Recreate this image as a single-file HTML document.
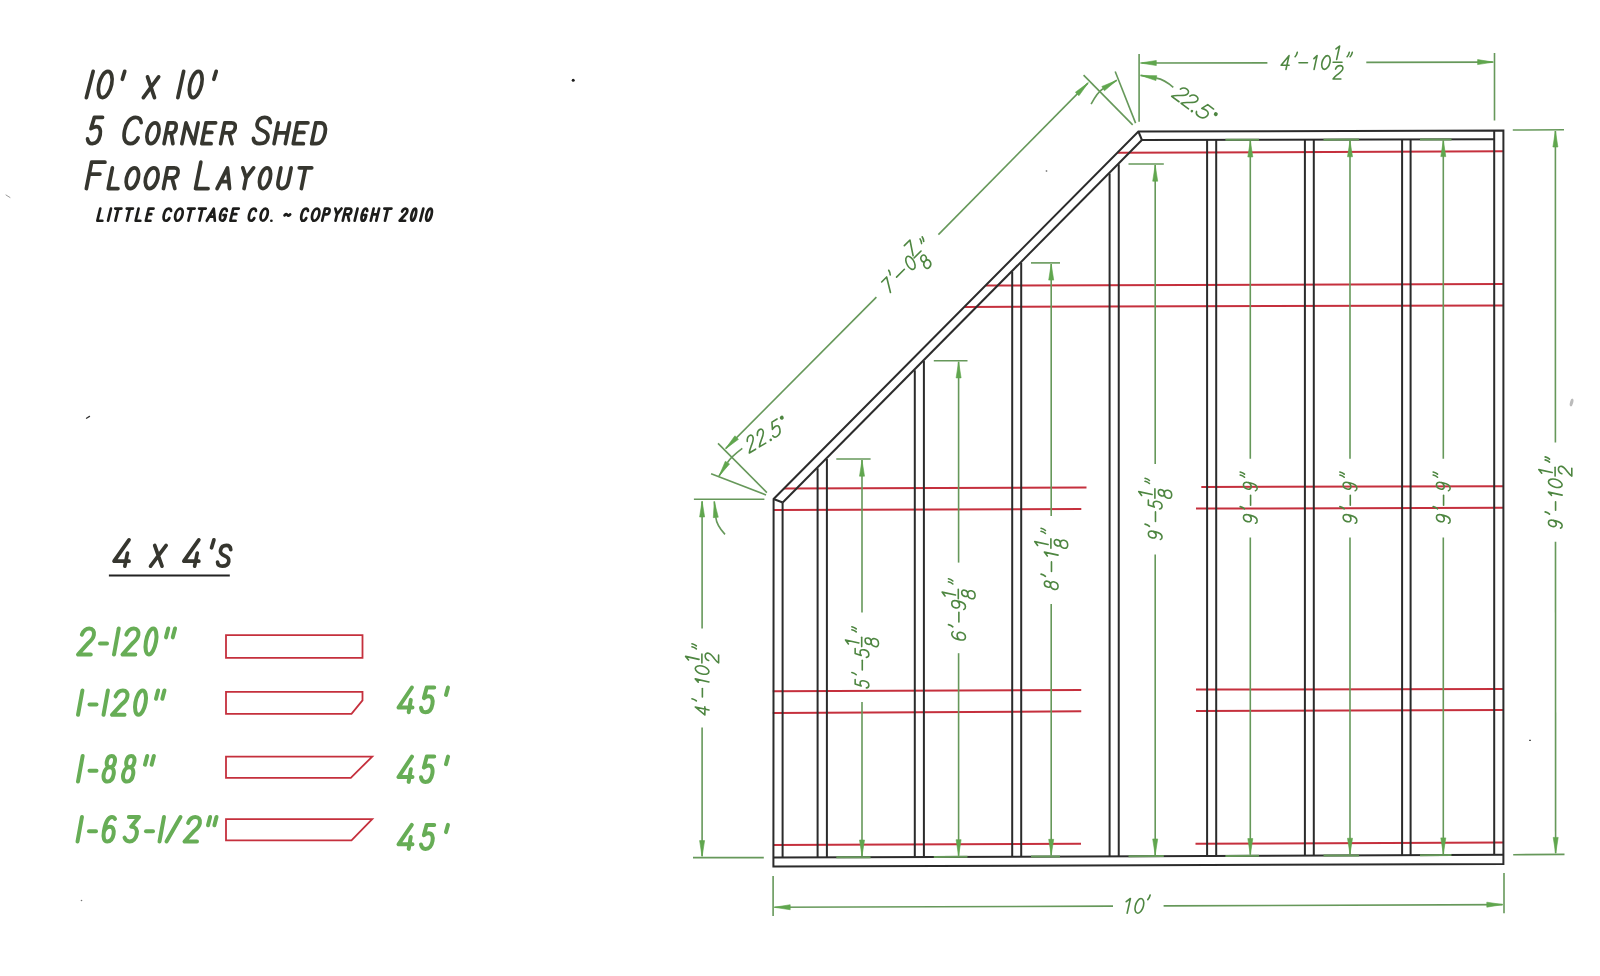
<!DOCTYPE html>
<html><head><meta charset="utf-8"><title>5 Corner Shed Floor Layout</title>
<style>html,body{margin:0;padding:0;background:#fff;font-family:"Liberation Sans",sans-serif;}svg{display:block;will-change:transform;}</style>
</head><body>
<svg width="1600" height="976" viewBox="0 0 1600 976">
<rect x="0" y="0" width="1600" height="976" fill="#ffffff"/>
<line x1="1117.40" y1="152.75" x2="1503.40" y2="151.25" stroke="#c5303d" stroke-width="2.0" stroke-linecap="butt"/>
<line x1="986.00" y1="285.60" x2="1503.40" y2="284.10" stroke="#c5303d" stroke-width="2.0" stroke-linecap="butt"/>
<line x1="964.50" y1="307.00" x2="1503.40" y2="305.40" stroke="#c5303d" stroke-width="2.0" stroke-linecap="butt"/>
<line x1="784.20" y1="488.50" x2="1086.50" y2="487.50" stroke="#c5303d" stroke-width="2.0" stroke-linecap="butt"/>
<line x1="773.40" y1="510.00" x2="1081.30" y2="509.00" stroke="#c5303d" stroke-width="2.0" stroke-linecap="butt"/>
<line x1="1201.30" y1="487.00" x2="1503.40" y2="486.30" stroke="#c5303d" stroke-width="2.0" stroke-linecap="butt"/>
<line x1="1196.00" y1="508.60" x2="1503.40" y2="507.80" stroke="#c5303d" stroke-width="2.0" stroke-linecap="butt"/>
<line x1="772.80" y1="691.25" x2="1081.25" y2="690.00" stroke="#c5303d" stroke-width="2.0" stroke-linecap="butt"/>
<line x1="772.80" y1="713.10" x2="1081.25" y2="711.25" stroke="#c5303d" stroke-width="2.0" stroke-linecap="butt"/>
<line x1="1196.00" y1="689.60" x2="1503.40" y2="688.90" stroke="#c5303d" stroke-width="2.0" stroke-linecap="butt"/>
<line x1="1196.00" y1="710.90" x2="1503.40" y2="709.90" stroke="#c5303d" stroke-width="2.0" stroke-linecap="butt"/>
<line x1="773.40" y1="845.00" x2="1081.00" y2="843.75" stroke="#c5303d" stroke-width="2.0" stroke-linecap="butt"/>
<line x1="1195.50" y1="843.75" x2="1503.40" y2="842.40" stroke="#c5303d" stroke-width="2.0" stroke-linecap="butt"/>
<polygon points="773.40,866.60 1503.40,863.90 1503.40,130.51 1138.40,131.50 773.60,499.00" fill="none" stroke="#2b2b2b" stroke-width="2.0" stroke-linejoin="miter"/>
<line x1="773.40" y1="857.53" x2="1503.40" y2="854.87" stroke="#2b2b2b" stroke-width="2.0" stroke-linecap="butt"/>
<line x1="1494.20" y1="130.54" x2="1494.20" y2="854.90" stroke="#2b2b2b" stroke-width="2.0" stroke-linecap="butt"/>
<line x1="1141.90" y1="140.00" x2="1494.20" y2="139.30" stroke="#2b2b2b" stroke-width="2.0" stroke-linecap="butt"/>
<line x1="782.70" y1="502.50" x2="1141.90" y2="140.00" stroke="#2b2b2b" stroke-width="2.0" stroke-linecap="butt"/>
<line x1="782.60" y1="502.50" x2="782.60" y2="857.50" stroke="#2b2b2b" stroke-width="2.0" stroke-linecap="butt"/>
<line x1="773.60" y1="499.00" x2="782.70" y2="502.50" stroke="#2b2b2b" stroke-width="2.0" stroke-linecap="butt"/>
<line x1="1138.40" y1="131.50" x2="1141.90" y2="140.00" stroke="#2b2b2b" stroke-width="2.0" stroke-linecap="butt"/>
<line x1="817.60" y1="468.28" x2="817.60" y2="857.37" stroke="#2b2b2b" stroke-width="2.0" stroke-linecap="butt"/>
<line x1="826.90" y1="458.89" x2="826.90" y2="857.34" stroke="#2b2b2b" stroke-width="2.0" stroke-linecap="butt"/>
<line x1="914.80" y1="370.17" x2="914.80" y2="857.02" stroke="#2b2b2b" stroke-width="2.0" stroke-linecap="butt"/>
<line x1="923.90" y1="360.99" x2="923.90" y2="856.98" stroke="#2b2b2b" stroke-width="2.0" stroke-linecap="butt"/>
<line x1="1012.20" y1="271.87" x2="1012.20" y2="856.66" stroke="#2b2b2b" stroke-width="2.0" stroke-linecap="butt"/>
<line x1="1021.20" y1="262.78" x2="1021.20" y2="856.63" stroke="#2b2b2b" stroke-width="2.0" stroke-linecap="butt"/>
<line x1="1109.60" y1="173.56" x2="1109.60" y2="856.31" stroke="#2b2b2b" stroke-width="2.0" stroke-linecap="butt"/>
<line x1="1118.75" y1="164.32" x2="1118.75" y2="856.27" stroke="#2b2b2b" stroke-width="2.0" stroke-linecap="butt"/>
<line x1="1207.10" y1="139.87" x2="1207.10" y2="855.95" stroke="#2b2b2b" stroke-width="2.0" stroke-linecap="butt"/>
<line x1="1216.20" y1="139.85" x2="1216.20" y2="855.92" stroke="#2b2b2b" stroke-width="2.0" stroke-linecap="butt"/>
<line x1="1304.90" y1="139.67" x2="1304.90" y2="855.59" stroke="#2b2b2b" stroke-width="2.0" stroke-linecap="butt"/>
<line x1="1313.80" y1="139.66" x2="1313.80" y2="855.56" stroke="#2b2b2b" stroke-width="2.0" stroke-linecap="butt"/>
<line x1="1402.10" y1="139.48" x2="1402.10" y2="855.24" stroke="#2b2b2b" stroke-width="2.0" stroke-linecap="butt"/>
<line x1="1410.60" y1="139.46" x2="1410.60" y2="855.21" stroke="#2b2b2b" stroke-width="2.0" stroke-linecap="butt"/>
<line x1="836.30" y1="459.00" x2="870.60" y2="459.00" stroke="#66985a" stroke-width="1.6" stroke-linecap="butt"/>
<line x1="836.30" y1="857.30" x2="870.60" y2="857.18" stroke="#66985a" stroke-width="2.0" stroke-linecap="butt"/>
<line x1="862.00" y1="460.00" x2="862.00" y2="612.40" stroke="#66985a" stroke-width="1.6" stroke-linecap="butt"/>
<line x1="862.00" y1="701.90" x2="862.00" y2="856.21" stroke="#66985a" stroke-width="1.6" stroke-linecap="butt"/>
<polygon points="862.00,460.20 864.50,476.20 859.50,476.20" fill="#60a64e" stroke="#60a64e" stroke-width="0.6"/>
<polygon points="862.00,856.01 859.50,840.01 864.50,840.01" fill="#60a64e" stroke="#60a64e" stroke-width="0.6"/>
<line x1="933.80" y1="360.70" x2="967.50" y2="360.70" stroke="#66985a" stroke-width="1.6" stroke-linecap="butt"/>
<line x1="933.80" y1="856.95" x2="967.50" y2="856.83" stroke="#66985a" stroke-width="2.0" stroke-linecap="butt"/>
<line x1="958.60" y1="361.70" x2="958.60" y2="562.60" stroke="#66985a" stroke-width="1.6" stroke-linecap="butt"/>
<line x1="958.60" y1="653.20" x2="958.60" y2="855.86" stroke="#66985a" stroke-width="1.6" stroke-linecap="butt"/>
<polygon points="958.60,361.90 961.10,377.90 956.10,377.90" fill="#60a64e" stroke="#60a64e" stroke-width="0.6"/>
<polygon points="958.60,855.66 956.10,839.66 961.10,839.66" fill="#60a64e" stroke="#60a64e" stroke-width="0.6"/>
<line x1="1031.00" y1="262.90" x2="1060.00" y2="262.90" stroke="#66985a" stroke-width="1.6" stroke-linecap="butt"/>
<line x1="1031.00" y1="856.59" x2="1060.00" y2="856.49" stroke="#66985a" stroke-width="2.0" stroke-linecap="butt"/>
<line x1="1051.20" y1="263.90" x2="1051.20" y2="516.00" stroke="#66985a" stroke-width="1.6" stroke-linecap="butt"/>
<line x1="1051.20" y1="603.90" x2="1051.20" y2="855.52" stroke="#66985a" stroke-width="1.6" stroke-linecap="butt"/>
<polygon points="1051.20,264.10 1053.70,280.10 1048.70,280.10" fill="#60a64e" stroke="#60a64e" stroke-width="0.6"/>
<polygon points="1051.20,855.32 1048.70,839.32 1053.70,839.32" fill="#60a64e" stroke="#60a64e" stroke-width="0.6"/>
<line x1="1128.50" y1="164.00" x2="1163.80" y2="164.00" stroke="#66985a" stroke-width="1.6" stroke-linecap="butt"/>
<line x1="1128.50" y1="856.24" x2="1163.80" y2="856.11" stroke="#66985a" stroke-width="2.0" stroke-linecap="butt"/>
<line x1="1155.20" y1="165.00" x2="1155.20" y2="464.00" stroke="#66985a" stroke-width="1.6" stroke-linecap="butt"/>
<line x1="1155.20" y1="554.60" x2="1155.20" y2="855.14" stroke="#66985a" stroke-width="1.6" stroke-linecap="butt"/>
<polygon points="1155.20,165.20 1157.70,181.20 1152.70,181.20" fill="#60a64e" stroke="#60a64e" stroke-width="0.6"/>
<polygon points="1155.20,854.94 1152.70,838.94 1157.70,838.94" fill="#60a64e" stroke="#60a64e" stroke-width="0.6"/>
<line x1="1225.40" y1="139.83" x2="1259.00" y2="139.77" stroke="#66985a" stroke-width="2.0" stroke-linecap="butt"/>
<line x1="1225.40" y1="855.88" x2="1259.00" y2="855.76" stroke="#66985a" stroke-width="2.0" stroke-linecap="butt"/>
<line x1="1250.30" y1="140.78" x2="1250.30" y2="458.70" stroke="#66985a" stroke-width="1.6" stroke-linecap="butt"/>
<line x1="1250.30" y1="537.50" x2="1250.30" y2="854.79" stroke="#66985a" stroke-width="1.6" stroke-linecap="butt"/>
<polygon points="1250.30,140.98 1252.80,156.98 1247.80,156.98" fill="#60a64e" stroke="#60a64e" stroke-width="0.6"/>
<polygon points="1250.30,854.59 1247.80,838.59 1252.80,838.59" fill="#60a64e" stroke="#60a64e" stroke-width="0.6"/>
<line x1="1323.50" y1="139.64" x2="1359.00" y2="139.57" stroke="#66985a" stroke-width="2.0" stroke-linecap="butt"/>
<line x1="1323.50" y1="855.53" x2="1359.00" y2="855.40" stroke="#66985a" stroke-width="2.0" stroke-linecap="butt"/>
<line x1="1350.00" y1="140.58" x2="1350.00" y2="458.70" stroke="#66985a" stroke-width="1.6" stroke-linecap="butt"/>
<line x1="1350.00" y1="537.50" x2="1350.00" y2="854.43" stroke="#66985a" stroke-width="1.6" stroke-linecap="butt"/>
<polygon points="1350.00,140.78 1352.50,156.78 1347.50,156.78" fill="#60a64e" stroke="#60a64e" stroke-width="0.6"/>
<polygon points="1350.00,854.23 1347.50,838.23 1352.50,838.23" fill="#60a64e" stroke="#60a64e" stroke-width="0.6"/>
<line x1="1420.00" y1="139.44" x2="1451.50" y2="139.38" stroke="#66985a" stroke-width="2.0" stroke-linecap="butt"/>
<line x1="1420.00" y1="855.17" x2="1451.50" y2="855.06" stroke="#66985a" stroke-width="2.0" stroke-linecap="butt"/>
<line x1="1443.30" y1="140.40" x2="1443.30" y2="458.70" stroke="#66985a" stroke-width="1.6" stroke-linecap="butt"/>
<line x1="1443.30" y1="537.50" x2="1443.30" y2="854.09" stroke="#66985a" stroke-width="1.6" stroke-linecap="butt"/>
<polygon points="1443.30,140.60 1445.80,156.60 1440.80,156.60" fill="#60a64e" stroke="#60a64e" stroke-width="0.6"/>
<polygon points="1443.30,853.89 1440.80,837.89 1445.80,837.89" fill="#60a64e" stroke="#60a64e" stroke-width="0.6"/>
<line x1="1139.10" y1="54.10" x2="1139.10" y2="121.70" stroke="#66985a" stroke-width="1.6" stroke-linecap="butt"/>
<line x1="1494.50" y1="53.00" x2="1494.50" y2="120.50" stroke="#66985a" stroke-width="1.6" stroke-linecap="butt"/>
<line x1="1141.50" y1="63.00" x2="1267.40" y2="62.90" stroke="#66985a" stroke-width="1.6" stroke-linecap="butt"/>
<line x1="1366.30" y1="62.40" x2="1492.80" y2="62.10" stroke="#66985a" stroke-width="1.6" stroke-linecap="butt"/>
<polygon points="1140.30,63.00 1156.30,60.50 1156.30,65.50" fill="#60a64e" stroke="#60a64e" stroke-width="0.6"/>
<polygon points="1493.60,62.10 1477.60,64.60 1477.60,59.60" fill="#60a64e" stroke="#60a64e" stroke-width="0.6"/>
<line x1="1512.80" y1="130.00" x2="1564.00" y2="129.80" stroke="#66985a" stroke-width="1.6" stroke-linecap="butt"/>
<line x1="1513.20" y1="854.70" x2="1564.50" y2="854.40" stroke="#66985a" stroke-width="1.6" stroke-linecap="butt"/>
<line x1="1555.40" y1="131.00" x2="1555.40" y2="442.60" stroke="#66985a" stroke-width="1.6" stroke-linecap="butt"/>
<line x1="1555.50" y1="541.80" x2="1555.60" y2="853.00" stroke="#66985a" stroke-width="1.6" stroke-linecap="butt"/>
<polygon points="1555.40,131.00 1557.90,147.00 1552.90,147.00" fill="#60a64e" stroke="#60a64e" stroke-width="0.6"/>
<polygon points="1555.70,853.40 1553.20,837.40 1558.20,837.40" fill="#60a64e" stroke="#60a64e" stroke-width="0.6"/>
<line x1="773.10" y1="876.00" x2="773.10" y2="916.00" stroke="#66985a" stroke-width="1.6" stroke-linecap="butt"/>
<line x1="1504.00" y1="873.00" x2="1504.00" y2="913.30" stroke="#66985a" stroke-width="1.6" stroke-linecap="butt"/>
<line x1="774.50" y1="907.30" x2="1113.00" y2="906.10" stroke="#66985a" stroke-width="1.6" stroke-linecap="butt"/>
<line x1="1163.60" y1="905.90" x2="1502.50" y2="904.60" stroke="#66985a" stroke-width="1.6" stroke-linecap="butt"/>
<polygon points="774.20,907.30 790.19,904.74 790.21,909.74" fill="#60a64e" stroke="#60a64e" stroke-width="0.6"/>
<polygon points="1502.80,904.60 1486.81,907.17 1486.79,902.17" fill="#60a64e" stroke="#60a64e" stroke-width="0.6"/>
<line x1="693.90" y1="499.20" x2="764.40" y2="499.20" stroke="#66985a" stroke-width="1.6" stroke-linecap="butt"/>
<line x1="693.00" y1="857.60" x2="763.80" y2="857.60" stroke="#66985a" stroke-width="1.6" stroke-linecap="butt"/>
<line x1="702.10" y1="501.60" x2="702.10" y2="628.60" stroke="#66985a" stroke-width="1.6" stroke-linecap="butt"/>
<line x1="702.10" y1="727.60" x2="702.10" y2="856.00" stroke="#66985a" stroke-width="1.6" stroke-linecap="butt"/>
<polygon points="702.10,501.00 704.60,517.00 699.60,517.00" fill="#60a64e" stroke="#60a64e" stroke-width="0.6"/>
<polygon points="702.10,856.60 699.60,840.60 704.60,840.60" fill="#60a64e" stroke="#60a64e" stroke-width="0.6"/>
<line x1="766.90" y1="492.60" x2="718.00" y2="443.40" stroke="#66985a" stroke-width="1.6" stroke-linecap="butt"/>
<line x1="1132.70" y1="124.90" x2="1083.60" y2="75.10" stroke="#66985a" stroke-width="1.6" stroke-linecap="butt"/>
<line x1="725.90" y1="448.40" x2="876.40" y2="297.10" stroke="#66985a" stroke-width="1.6" stroke-linecap="butt"/>
<line x1="938.40" y1="234.60" x2="1087.90" y2="83.10" stroke="#66985a" stroke-width="1.6" stroke-linecap="butt"/>
<polygon points="725.40,448.90 734.90,435.79 738.45,439.31" fill="#60a64e" stroke="#60a64e" stroke-width="0.6"/>
<polygon points="1088.40,82.60 1078.94,95.75 1075.38,92.24" fill="#60a64e" stroke="#60a64e" stroke-width="0.6"/>
<line x1="766.00" y1="495.00" x2="711.10" y2="473.80" stroke="#66985a" stroke-width="1.6" stroke-linecap="butt"/>
<line x1="1135.60" y1="123.10" x2="1115.20" y2="71.50" stroke="#66985a" stroke-width="1.6" stroke-linecap="butt"/>
<path d="M1156.40,78.10 Q1164.30,79.45 1173.30,87.30" fill="none" stroke="#66985a" stroke-width="1.6"/>
<line x1="1140.60" y1="75.40" x2="1156.40" y2="78.10" stroke="#66985a" stroke-width="1.6" stroke-linecap="butt"/>
<polygon points="1140.60,75.40 1156.79,75.63 1155.95,80.56" fill="#60a64e" stroke="#60a64e" stroke-width="0.6"/>
<path d="M1103.00,88.70 Q1097.48,92.06 1091.10,104.10" fill="none" stroke="#66985a" stroke-width="1.6"/>
<line x1="1116.80" y1="80.30" x2="1103.00" y2="88.70" stroke="#66985a" stroke-width="1.6" stroke-linecap="butt"/>
<polygon points="1116.80,80.30 1104.43,90.75 1101.83,86.48" fill="#60a64e" stroke="#60a64e" stroke-width="0.6"/>
<path d="M715.80,517.40 Q716.55,525.35 725.00,534.40" fill="none" stroke="#66985a" stroke-width="1.6"/>
<line x1="714.30" y1="501.50" x2="715.80" y2="517.40" stroke="#66985a" stroke-width="1.6" stroke-linecap="butt"/>
<polygon points="714.30,501.50 718.29,517.19 713.31,517.66" fill="#60a64e" stroke="#60a64e" stroke-width="0.6"/>
<path d="M727.50,462.50 Q730.90,457.02 742.30,448.40" fill="none" stroke="#66985a" stroke-width="1.6"/>
<line x1="719.00" y1="476.20" x2="727.50" y2="462.50" stroke="#66985a" stroke-width="1.6" stroke-linecap="butt"/>
<polygon points="719.00,476.20 725.31,461.29 729.56,463.92" fill="#60a64e" stroke="#60a64e" stroke-width="0.6"/>
<g transform="translate(1317.00,62.50) rotate(0)">
<path d="M42,0 L42,-100 L0,-30 L58,-30" transform="matrix(0.1379,0,-0.0301,0.1370,-36.80,6.85)" fill="none" stroke="#4e8641" stroke-width="1.6" stroke-linecap="round" stroke-linejoin="round" vector-effect="non-scaling-stroke"/>
<path d="M9,-124 C9,-112 6,-100 0,-92" transform="matrix(0.1370,0,-0.0301,0.1370,-24.67,6.85)" fill="none" stroke="#4e8641" stroke-width="1.6" stroke-linecap="round" stroke-linejoin="round" vector-effect="non-scaling-stroke"/>
<path d="M0,-48 L70,-48" transform="matrix(0.1214,0,-0.0301,0.1370,-19.45,6.85)" fill="none" stroke="#4e8641" stroke-width="1.6" stroke-linecap="round" stroke-linejoin="round" vector-effect="non-scaling-stroke"/>
<path d="M0,-78 L26,-100 L26,0" transform="matrix(0.0976,0,-0.0301,0.1370,-5.45,6.85)" fill="none" stroke="#4e8641" stroke-width="1.6" stroke-linecap="round" stroke-linejoin="round" vector-effect="non-scaling-stroke"/>
<path d="M28,-100 C43.4644,-100 56,-77.61500000000001 56,-50 C56,-22.384999999999998 43.4644,0 28,0 C12.535599999999999,0 0,-22.384999999999998 0,-50 C0,-77.61500000000001 12.535599999999999,-100 28,-100 Z" transform="matrix(0.1420,0,-0.0301,0.1370,3.47,6.85)" fill="none" stroke="#4e8641" stroke-width="1.6" stroke-linecap="round" stroke-linejoin="round" vector-effect="non-scaling-stroke"/>
<path d="M0,-78 L26,-100 L26,0" transform="matrix(0.1135,0,-0.0295,0.1340,16.70,-3.10)" fill="none" stroke="#4e8641" stroke-width="1.6" stroke-linecap="round" stroke-linejoin="round" vector-effect="non-scaling-stroke"/>
<path d="M2,-74 C4,-91 15,-100 29,-100 C44,-100 54,-90 54,-75 C54,-58 40,-47 24,-32 C12,-21 4,-11 0,0 L56,0" transform="matrix(0.1387,0,-0.0295,0.1340,16.10,16.50)" fill="none" stroke="#4e8641" stroke-width="1.6" stroke-linecap="round" stroke-linejoin="round" vector-effect="non-scaling-stroke"/>
<path d="M9,-124 C9,-112 6,-100 0,-92 M31,-124 C31,-112 28,-100 22,-92" transform="matrix(0.1370,0,-0.0301,0.1370,27.33,6.85)" fill="none" stroke="#4e8641" stroke-width="1.6" stroke-linecap="round" stroke-linejoin="round" vector-effect="non-scaling-stroke"/>
<line x1="16.10" y1="-0.20" x2="25.00" y2="-0.20" stroke="#4e8641" stroke-width="1.6" stroke-linecap="round"/>
</g>
<g transform="translate(1555.30,492.20) rotate(-90)">
<path d="M54,-64 C50,-51 40,-43 28,-43 C13,-43 2,-54 2,-71 C2,-89 13,-100 28,-100 C44,-100 54,-88 54,-68 L54,-48 C54,-18 42,0 25,0 C15,0 7,-4 3,-12" transform="matrix(0.1200,0,-0.0301,0.1370,-36.62,6.85)" fill="none" stroke="#4e8641" stroke-width="1.6" stroke-linecap="round" stroke-linejoin="round" vector-effect="non-scaling-stroke"/>
<path d="M9,-124 C9,-112 6,-100 0,-92" transform="matrix(0.1370,0,-0.0301,0.1370,-24.67,6.85)" fill="none" stroke="#4e8641" stroke-width="1.6" stroke-linecap="round" stroke-linejoin="round" vector-effect="non-scaling-stroke"/>
<path d="M0,-48 L70,-48" transform="matrix(0.1214,0,-0.0301,0.1370,-19.45,6.85)" fill="none" stroke="#4e8641" stroke-width="1.6" stroke-linecap="round" stroke-linejoin="round" vector-effect="non-scaling-stroke"/>
<path d="M0,-78 L26,-100 L26,0" transform="matrix(0.0976,0,-0.0301,0.1370,-5.45,6.85)" fill="none" stroke="#4e8641" stroke-width="1.6" stroke-linecap="round" stroke-linejoin="round" vector-effect="non-scaling-stroke"/>
<path d="M28,-100 C43.4644,-100 56,-77.61500000000001 56,-50 C56,-22.384999999999998 43.4644,0 28,0 C12.535599999999999,0 0,-22.384999999999998 0,-50 C0,-77.61500000000001 12.535599999999999,-100 28,-100 Z" transform="matrix(0.1420,0,-0.0301,0.1370,3.47,6.85)" fill="none" stroke="#4e8641" stroke-width="1.6" stroke-linecap="round" stroke-linejoin="round" vector-effect="non-scaling-stroke"/>
<path d="M0,-78 L26,-100 L26,0" transform="matrix(0.1135,0,-0.0295,0.1340,16.70,-3.10)" fill="none" stroke="#4e8641" stroke-width="1.6" stroke-linecap="round" stroke-linejoin="round" vector-effect="non-scaling-stroke"/>
<path d="M2,-74 C4,-91 15,-100 29,-100 C44,-100 54,-90 54,-75 C54,-58 40,-47 24,-32 C12,-21 4,-11 0,0 L56,0" transform="matrix(0.1387,0,-0.0295,0.1340,16.10,16.50)" fill="none" stroke="#4e8641" stroke-width="1.6" stroke-linecap="round" stroke-linejoin="round" vector-effect="non-scaling-stroke"/>
<path d="M9,-124 C9,-112 6,-100 0,-92 M31,-124 C31,-112 28,-100 22,-92" transform="matrix(0.1370,0,-0.0301,0.1370,27.33,6.85)" fill="none" stroke="#4e8641" stroke-width="1.6" stroke-linecap="round" stroke-linejoin="round" vector-effect="non-scaling-stroke"/>
<line x1="16.10" y1="-0.20" x2="25.00" y2="-0.20" stroke="#4e8641" stroke-width="1.6" stroke-linecap="round"/>
</g>
<g transform="translate(702.10,679.00) rotate(-90)">
<path d="M42,0 L42,-100 L0,-30 L58,-30" transform="matrix(0.1379,0,-0.0301,0.1370,-36.80,6.85)" fill="none" stroke="#4e8641" stroke-width="1.6" stroke-linecap="round" stroke-linejoin="round" vector-effect="non-scaling-stroke"/>
<path d="M9,-124 C9,-112 6,-100 0,-92" transform="matrix(0.1370,0,-0.0301,0.1370,-24.67,6.85)" fill="none" stroke="#4e8641" stroke-width="1.6" stroke-linecap="round" stroke-linejoin="round" vector-effect="non-scaling-stroke"/>
<path d="M0,-48 L70,-48" transform="matrix(0.1214,0,-0.0301,0.1370,-19.45,6.85)" fill="none" stroke="#4e8641" stroke-width="1.6" stroke-linecap="round" stroke-linejoin="round" vector-effect="non-scaling-stroke"/>
<path d="M0,-78 L26,-100 L26,0" transform="matrix(0.0976,0,-0.0301,0.1370,-5.45,6.85)" fill="none" stroke="#4e8641" stroke-width="1.6" stroke-linecap="round" stroke-linejoin="round" vector-effect="non-scaling-stroke"/>
<path d="M28,-100 C43.4644,-100 56,-77.61500000000001 56,-50 C56,-22.384999999999998 43.4644,0 28,0 C12.535599999999999,0 0,-22.384999999999998 0,-50 C0,-77.61500000000001 12.535599999999999,-100 28,-100 Z" transform="matrix(0.1420,0,-0.0301,0.1370,3.47,6.85)" fill="none" stroke="#4e8641" stroke-width="1.6" stroke-linecap="round" stroke-linejoin="round" vector-effect="non-scaling-stroke"/>
<path d="M0,-78 L26,-100 L26,0" transform="matrix(0.1135,0,-0.0295,0.1340,16.70,-3.10)" fill="none" stroke="#4e8641" stroke-width="1.6" stroke-linecap="round" stroke-linejoin="round" vector-effect="non-scaling-stroke"/>
<path d="M2,-74 C4,-91 15,-100 29,-100 C44,-100 54,-90 54,-75 C54,-58 40,-47 24,-32 C12,-21 4,-11 0,0 L56,0" transform="matrix(0.1387,0,-0.0295,0.1340,16.10,16.50)" fill="none" stroke="#4e8641" stroke-width="1.6" stroke-linecap="round" stroke-linejoin="round" vector-effect="non-scaling-stroke"/>
<path d="M9,-124 C9,-112 6,-100 0,-92 M31,-124 C31,-112 28,-100 22,-92" transform="matrix(0.1370,0,-0.0301,0.1370,27.33,6.85)" fill="none" stroke="#4e8641" stroke-width="1.6" stroke-linecap="round" stroke-linejoin="round" vector-effect="non-scaling-stroke"/>
<line x1="16.10" y1="-0.20" x2="25.00" y2="-0.20" stroke="#4e8641" stroke-width="1.6" stroke-linecap="round"/>
</g>
<g transform="translate(862.00,657.70) rotate(-90)">
<path d="M50,-100 L12,-100 L6,-56 C14,-62 22,-64 30,-64 C45,-64 55,-52 55,-32 C55,-12 43,0 27,0 C13,0 4,-7 0,-18" transform="matrix(0.1186,0,-0.0301,0.1370,-30.74,6.85)" fill="none" stroke="#4e8641" stroke-width="1.6" stroke-linecap="round" stroke-linejoin="round" vector-effect="non-scaling-stroke"/>
<path d="M9,-124 C9,-112 6,-100 0,-92" transform="matrix(0.1370,0,-0.0301,0.1370,-19.77,6.85)" fill="none" stroke="#4e8641" stroke-width="1.6" stroke-linecap="round" stroke-linejoin="round" vector-effect="non-scaling-stroke"/>
<path d="M0,-48 L70,-48" transform="matrix(0.1371,0,-0.0301,0.1370,-13.65,6.85)" fill="none" stroke="#4e8641" stroke-width="1.6" stroke-linecap="round" stroke-linejoin="round" vector-effect="non-scaling-stroke"/>
<path d="M50,-100 L12,-100 L6,-56 C14,-62 22,-64 30,-64 C45,-64 55,-52 55,-32 C55,-12 43,0 27,0 C13,0 4,-7 0,-18" transform="matrix(0.1286,0,-0.0301,0.1370,-0.24,6.85)" fill="none" stroke="#4e8641" stroke-width="1.6" stroke-linecap="round" stroke-linejoin="round" vector-effect="non-scaling-stroke"/>
<path d="M0,-78 L26,-100 L26,0" transform="matrix(0.1251,0,-0.0295,0.1340,11.50,-3.10)" fill="none" stroke="#4e8641" stroke-width="1.6" stroke-linecap="round" stroke-linejoin="round" vector-effect="non-scaling-stroke"/>
<path d="M28,-55 C14,-55 6,-63 6,-77 C6,-92 15,-100 28,-100 C41,-100 50,-92 50,-77 C50,-63 42,-55 28,-55 C12,-55 0,-45 0,-27 C0,-10 12,0 28,0 C44,0 56,-10 56,-27 C56,-45 44,-55 28,-55 Z" transform="matrix(0.1405,0,-0.0295,0.1340,10.31,16.50)" fill="none" stroke="#4e8641" stroke-width="1.6" stroke-linecap="round" stroke-linejoin="round" vector-effect="non-scaling-stroke"/>
<path d="M9,-124 C9,-112 6,-100 0,-92 M31,-124 C31,-112 28,-100 22,-92" transform="matrix(0.1370,0,-0.0301,0.1370,23.03,6.85)" fill="none" stroke="#4e8641" stroke-width="1.6" stroke-linecap="round" stroke-linejoin="round" vector-effect="non-scaling-stroke"/>
<line x1="11.10" y1="-0.30" x2="20.40" y2="-0.30" stroke="#4e8641" stroke-width="1.6" stroke-linecap="round"/>
</g>
<g transform="translate(958.60,609.80) rotate(-90)">
<path d="M50,-90 C44,-98 38,-100 31,-100 C13,-100 2,-80 2,-46 C2,-15 13,0 29,0 C45,0 56,-12 56,-31 C56,-49 45,-61 30,-61 C17,-61 6,-53 2,-38" transform="matrix(0.1404,0,-0.0301,0.1370,-31.53,6.85)" fill="none" stroke="#4e8641" stroke-width="1.6" stroke-linecap="round" stroke-linejoin="round" vector-effect="non-scaling-stroke"/>
<path d="M9,-124 C9,-112 6,-100 0,-92" transform="matrix(0.1370,0,-0.0301,0.1370,-19.77,6.85)" fill="none" stroke="#4e8641" stroke-width="1.6" stroke-linecap="round" stroke-linejoin="round" vector-effect="non-scaling-stroke"/>
<path d="M0,-48 L70,-48" transform="matrix(0.1371,0,-0.0301,0.1370,-13.65,6.85)" fill="none" stroke="#4e8641" stroke-width="1.6" stroke-linecap="round" stroke-linejoin="round" vector-effect="non-scaling-stroke"/>
<path d="M54,-64 C50,-51 40,-43 28,-43 C13,-43 2,-54 2,-71 C2,-89 13,-100 28,-100 C44,-100 54,-88 54,-68 L54,-48 C54,-18 42,0 25,0 C15,0 7,-4 3,-12" transform="matrix(0.1381,0,-0.0301,0.1370,-0.48,6.85)" fill="none" stroke="#4e8641" stroke-width="1.6" stroke-linecap="round" stroke-linejoin="round" vector-effect="non-scaling-stroke"/>
<path d="M0,-78 L26,-100 L26,0" transform="matrix(0.1251,0,-0.0295,0.1340,11.50,-3.10)" fill="none" stroke="#4e8641" stroke-width="1.6" stroke-linecap="round" stroke-linejoin="round" vector-effect="non-scaling-stroke"/>
<path d="M28,-55 C14,-55 6,-63 6,-77 C6,-92 15,-100 28,-100 C41,-100 50,-92 50,-77 C50,-63 42,-55 28,-55 C12,-55 0,-45 0,-27 C0,-10 12,0 28,0 C44,0 56,-10 56,-27 C56,-45 44,-55 28,-55 Z" transform="matrix(0.1405,0,-0.0295,0.1340,10.31,16.50)" fill="none" stroke="#4e8641" stroke-width="1.6" stroke-linecap="round" stroke-linejoin="round" vector-effect="non-scaling-stroke"/>
<path d="M9,-124 C9,-112 6,-100 0,-92 M31,-124 C31,-112 28,-100 22,-92" transform="matrix(0.1370,0,-0.0301,0.1370,23.03,6.85)" fill="none" stroke="#4e8641" stroke-width="1.6" stroke-linecap="round" stroke-linejoin="round" vector-effect="non-scaling-stroke"/>
<line x1="11.10" y1="-0.30" x2="20.40" y2="-0.30" stroke="#4e8641" stroke-width="1.6" stroke-linecap="round"/>
</g>
<g transform="translate(1051.20,559.30) rotate(-90)">
<path d="M28,-55 C14,-55 6,-63 6,-77 C6,-92 15,-100 28,-100 C41,-100 50,-92 50,-77 C50,-63 42,-55 28,-55 C12,-55 0,-45 0,-27 C0,-10 12,0 28,0 C44,0 56,-10 56,-27 C56,-45 44,-55 28,-55 Z" transform="matrix(0.1334,0,-0.0301,0.1370,-30.90,6.85)" fill="none" stroke="#4e8641" stroke-width="1.6" stroke-linecap="round" stroke-linejoin="round" vector-effect="non-scaling-stroke"/>
<path d="M9,-124 C9,-112 6,-100 0,-92" transform="matrix(0.1370,0,-0.0301,0.1370,-19.77,6.85)" fill="none" stroke="#4e8641" stroke-width="1.6" stroke-linecap="round" stroke-linejoin="round" vector-effect="non-scaling-stroke"/>
<path d="M0,-48 L70,-48" transform="matrix(0.1371,0,-0.0301,0.1370,-13.65,6.85)" fill="none" stroke="#4e8641" stroke-width="1.6" stroke-linecap="round" stroke-linejoin="round" vector-effect="non-scaling-stroke"/>
<path d="M0,-78 L26,-100 L26,0" transform="matrix(0.1245,0,-0.0301,0.1370,0.95,6.85)" fill="none" stroke="#4e8641" stroke-width="1.6" stroke-linecap="round" stroke-linejoin="round" vector-effect="non-scaling-stroke"/>
<path d="M0,-78 L26,-100 L26,0" transform="matrix(0.1251,0,-0.0295,0.1340,11.50,-3.10)" fill="none" stroke="#4e8641" stroke-width="1.6" stroke-linecap="round" stroke-linejoin="round" vector-effect="non-scaling-stroke"/>
<path d="M28,-55 C14,-55 6,-63 6,-77 C6,-92 15,-100 28,-100 C41,-100 50,-92 50,-77 C50,-63 42,-55 28,-55 C12,-55 0,-45 0,-27 C0,-10 12,0 28,0 C44,0 56,-10 56,-27 C56,-45 44,-55 28,-55 Z" transform="matrix(0.1405,0,-0.0295,0.1340,10.31,16.50)" fill="none" stroke="#4e8641" stroke-width="1.6" stroke-linecap="round" stroke-linejoin="round" vector-effect="non-scaling-stroke"/>
<path d="M9,-124 C9,-112 6,-100 0,-92 M31,-124 C31,-112 28,-100 22,-92" transform="matrix(0.1370,0,-0.0301,0.1370,23.03,6.85)" fill="none" stroke="#4e8641" stroke-width="1.6" stroke-linecap="round" stroke-linejoin="round" vector-effect="non-scaling-stroke"/>
<line x1="11.10" y1="-0.30" x2="20.40" y2="-0.30" stroke="#4e8641" stroke-width="1.6" stroke-linecap="round"/>
</g>
<g transform="translate(1155.20,509.30) rotate(-90)">
<path d="M54,-64 C50,-51 40,-43 28,-43 C13,-43 2,-54 2,-71 C2,-89 13,-100 28,-100 C44,-100 54,-88 54,-68 L54,-48 C54,-18 42,0 25,0 C15,0 7,-4 3,-12" transform="matrix(0.1280,0,-0.0301,0.1370,-30.95,6.85)" fill="none" stroke="#4e8641" stroke-width="1.6" stroke-linecap="round" stroke-linejoin="round" vector-effect="non-scaling-stroke"/>
<path d="M9,-124 C9,-112 6,-100 0,-92" transform="matrix(0.1370,0,-0.0301,0.1370,-19.77,6.85)" fill="none" stroke="#4e8641" stroke-width="1.6" stroke-linecap="round" stroke-linejoin="round" vector-effect="non-scaling-stroke"/>
<path d="M0,-48 L70,-48" transform="matrix(0.1371,0,-0.0301,0.1370,-13.65,6.85)" fill="none" stroke="#4e8641" stroke-width="1.6" stroke-linecap="round" stroke-linejoin="round" vector-effect="non-scaling-stroke"/>
<path d="M50,-100 L12,-100 L6,-56 C14,-62 22,-64 30,-64 C45,-64 55,-52 55,-32 C55,-12 43,0 27,0 C13,0 4,-7 0,-18" transform="matrix(0.1286,0,-0.0301,0.1370,-0.24,6.85)" fill="none" stroke="#4e8641" stroke-width="1.6" stroke-linecap="round" stroke-linejoin="round" vector-effect="non-scaling-stroke"/>
<path d="M0,-78 L26,-100 L26,0" transform="matrix(0.1251,0,-0.0295,0.1340,11.50,-3.10)" fill="none" stroke="#4e8641" stroke-width="1.6" stroke-linecap="round" stroke-linejoin="round" vector-effect="non-scaling-stroke"/>
<path d="M28,-55 C14,-55 6,-63 6,-77 C6,-92 15,-100 28,-100 C41,-100 50,-92 50,-77 C50,-63 42,-55 28,-55 C12,-55 0,-45 0,-27 C0,-10 12,0 28,0 C44,0 56,-10 56,-27 C56,-45 44,-55 28,-55 Z" transform="matrix(0.1405,0,-0.0295,0.1340,10.31,16.50)" fill="none" stroke="#4e8641" stroke-width="1.6" stroke-linecap="round" stroke-linejoin="round" vector-effect="non-scaling-stroke"/>
<path d="M9,-124 C9,-112 6,-100 0,-92 M31,-124 C31,-112 28,-100 22,-92" transform="matrix(0.1370,0,-0.0301,0.1370,23.03,6.85)" fill="none" stroke="#4e8641" stroke-width="1.6" stroke-linecap="round" stroke-linejoin="round" vector-effect="non-scaling-stroke"/>
<line x1="11.10" y1="-0.30" x2="20.40" y2="-0.30" stroke="#4e8641" stroke-width="1.6" stroke-linecap="round"/>
</g>
<g transform="translate(1250.30,497.80) rotate(-90)">
<path d="M54,-64 C50,-51 40,-43 28,-43 C13,-43 2,-54 2,-71 C2,-89 13,-100 28,-100 C44,-100 54,-88 54,-68 L54,-48 C54,-18 42,0 25,0 C15,0 7,-4 3,-12" transform="matrix(0.1341,0,-0.0301,0.1370,-26.26,6.85)" fill="none" stroke="#4e8641" stroke-width="1.6" stroke-linecap="round" stroke-linejoin="round" vector-effect="non-scaling-stroke"/>
<path d="M9,-124 C9,-112 6,-100 0,-92" transform="matrix(0.1370,0,-0.0301,0.1370,-13.77,6.85)" fill="none" stroke="#4e8641" stroke-width="1.6" stroke-linecap="round" stroke-linejoin="round" vector-effect="non-scaling-stroke"/>
<path d="M0,-48 L70,-48" transform="matrix(0.1414,0,-0.0301,0.1370,-8.95,6.85)" fill="none" stroke="#4e8641" stroke-width="1.6" stroke-linecap="round" stroke-linejoin="round" vector-effect="non-scaling-stroke"/>
<path d="M54,-64 C50,-51 40,-43 28,-43 C13,-43 2,-54 2,-71 C2,-89 13,-100 28,-100 C44,-100 54,-88 54,-68 L54,-48 C54,-18 42,0 25,0 C15,0 7,-4 3,-12" transform="matrix(0.1280,0,-0.0301,0.1370,6.35,6.85)" fill="none" stroke="#4e8641" stroke-width="1.6" stroke-linecap="round" stroke-linejoin="round" vector-effect="non-scaling-stroke"/>
<path d="M9,-124 C9,-112 6,-100 0,-92 M31,-124 C31,-112 28,-100 22,-92" transform="matrix(0.1370,0,-0.0301,0.1370,17.83,6.85)" fill="none" stroke="#4e8641" stroke-width="1.6" stroke-linecap="round" stroke-linejoin="round" vector-effect="non-scaling-stroke"/>
</g>
<g transform="translate(1350.00,497.80) rotate(-90)">
<path d="M54,-64 C50,-51 40,-43 28,-43 C13,-43 2,-54 2,-71 C2,-89 13,-100 28,-100 C44,-100 54,-88 54,-68 L54,-48 C54,-18 42,0 25,0 C15,0 7,-4 3,-12" transform="matrix(0.1341,0,-0.0301,0.1370,-26.26,6.85)" fill="none" stroke="#4e8641" stroke-width="1.6" stroke-linecap="round" stroke-linejoin="round" vector-effect="non-scaling-stroke"/>
<path d="M9,-124 C9,-112 6,-100 0,-92" transform="matrix(0.1370,0,-0.0301,0.1370,-13.77,6.85)" fill="none" stroke="#4e8641" stroke-width="1.6" stroke-linecap="round" stroke-linejoin="round" vector-effect="non-scaling-stroke"/>
<path d="M0,-48 L70,-48" transform="matrix(0.1414,0,-0.0301,0.1370,-8.95,6.85)" fill="none" stroke="#4e8641" stroke-width="1.6" stroke-linecap="round" stroke-linejoin="round" vector-effect="non-scaling-stroke"/>
<path d="M54,-64 C50,-51 40,-43 28,-43 C13,-43 2,-54 2,-71 C2,-89 13,-100 28,-100 C44,-100 54,-88 54,-68 L54,-48 C54,-18 42,0 25,0 C15,0 7,-4 3,-12" transform="matrix(0.1280,0,-0.0301,0.1370,6.35,6.85)" fill="none" stroke="#4e8641" stroke-width="1.6" stroke-linecap="round" stroke-linejoin="round" vector-effect="non-scaling-stroke"/>
<path d="M9,-124 C9,-112 6,-100 0,-92 M31,-124 C31,-112 28,-100 22,-92" transform="matrix(0.1370,0,-0.0301,0.1370,17.83,6.85)" fill="none" stroke="#4e8641" stroke-width="1.6" stroke-linecap="round" stroke-linejoin="round" vector-effect="non-scaling-stroke"/>
</g>
<g transform="translate(1443.30,497.80) rotate(-90)">
<path d="M54,-64 C50,-51 40,-43 28,-43 C13,-43 2,-54 2,-71 C2,-89 13,-100 28,-100 C44,-100 54,-88 54,-68 L54,-48 C54,-18 42,0 25,0 C15,0 7,-4 3,-12" transform="matrix(0.1341,0,-0.0301,0.1370,-26.26,6.85)" fill="none" stroke="#4e8641" stroke-width="1.6" stroke-linecap="round" stroke-linejoin="round" vector-effect="non-scaling-stroke"/>
<path d="M9,-124 C9,-112 6,-100 0,-92" transform="matrix(0.1370,0,-0.0301,0.1370,-13.77,6.85)" fill="none" stroke="#4e8641" stroke-width="1.6" stroke-linecap="round" stroke-linejoin="round" vector-effect="non-scaling-stroke"/>
<path d="M0,-48 L70,-48" transform="matrix(0.1414,0,-0.0301,0.1370,-8.95,6.85)" fill="none" stroke="#4e8641" stroke-width="1.6" stroke-linecap="round" stroke-linejoin="round" vector-effect="non-scaling-stroke"/>
<path d="M54,-64 C50,-51 40,-43 28,-43 C13,-43 2,-54 2,-71 C2,-89 13,-100 28,-100 C44,-100 54,-88 54,-68 L54,-48 C54,-18 42,0 25,0 C15,0 7,-4 3,-12" transform="matrix(0.1280,0,-0.0301,0.1370,6.35,6.85)" fill="none" stroke="#4e8641" stroke-width="1.6" stroke-linecap="round" stroke-linejoin="round" vector-effect="non-scaling-stroke"/>
<path d="M9,-124 C9,-112 6,-100 0,-92 M31,-124 C31,-112 28,-100 22,-92" transform="matrix(0.1370,0,-0.0301,0.1370,17.83,6.85)" fill="none" stroke="#4e8641" stroke-width="1.6" stroke-linecap="round" stroke-linejoin="round" vector-effect="non-scaling-stroke"/>
</g>
<g transform="translate(907.40,265.90) rotate(-45)">
<path d="M0,-100 L56,-100 L14,0" transform="matrix(0.1259,0,-0.0301,0.1370,-32.56,6.85)" fill="none" stroke="#4e8641" stroke-width="1.6" stroke-linecap="round" stroke-linejoin="round" vector-effect="non-scaling-stroke"/>
<path d="M9,-124 C9,-112 6,-100 0,-92" transform="matrix(0.1370,0,-0.0301,0.1370,-21.27,6.85)" fill="none" stroke="#4e8641" stroke-width="1.6" stroke-linecap="round" stroke-linejoin="round" vector-effect="non-scaling-stroke"/>
<path d="M0,-48 L70,-48" transform="matrix(0.1586,0,-0.0301,0.1370,-17.05,6.85)" fill="none" stroke="#4e8641" stroke-width="1.6" stroke-linecap="round" stroke-linejoin="round" vector-effect="non-scaling-stroke"/>
<path d="M28,-100 C43.4644,-100 56,-77.61500000000001 56,-50 C56,-22.384999999999998 43.4644,0 28,0 C12.535599999999999,0 0,-22.384999999999998 0,-50 C0,-77.61500000000001 12.535599999999999,-100 28,-100 Z" transform="matrix(0.1401,0,-0.0301,0.1370,-1.13,6.85)" fill="none" stroke="#4e8641" stroke-width="1.6" stroke-linecap="round" stroke-linejoin="round" vector-effect="non-scaling-stroke"/>
<path d="M0,-100 L56,-100 L14,0" transform="matrix(0.1417,0,-0.0295,0.1340,9.22,-3.10)" fill="none" stroke="#4e8641" stroke-width="1.6" stroke-linecap="round" stroke-linejoin="round" vector-effect="non-scaling-stroke"/>
<path d="M28,-55 C14,-55 6,-63 6,-77 C6,-92 15,-100 28,-100 C41,-100 50,-92 50,-77 C50,-63 42,-55 28,-55 C12,-55 0,-45 0,-27 C0,-10 12,0 28,0 C44,0 56,-10 56,-27 C56,-45 44,-55 28,-55 Z" transform="matrix(0.1343,0,-0.0295,0.1340,10.71,16.50)" fill="none" stroke="#4e8641" stroke-width="1.6" stroke-linecap="round" stroke-linejoin="round" vector-effect="non-scaling-stroke"/>
<path d="M9,-124 C9,-112 6,-100 0,-92 M31,-124 C31,-112 28,-100 22,-92" transform="matrix(0.1370,0,-0.0301,0.1370,23.03,6.85)" fill="none" stroke="#4e8641" stroke-width="1.6" stroke-linecap="round" stroke-linejoin="round" vector-effect="non-scaling-stroke"/>
<line x1="10.30" y1="-0.90" x2="20.20" y2="-0.90" stroke="#4e8641" stroke-width="1.6" stroke-linecap="round"/>
</g>
<g transform="translate(1138.00,906.00) rotate(0)">
<path d="M0,-78 L26,-100 L26,0" transform="matrix(0.1342,0,-0.0323,0.1470,-14.32,7.20)" fill="none" stroke="#4e8641" stroke-width="1.6" stroke-linecap="round" stroke-linejoin="round" vector-effect="non-scaling-stroke"/>
<path d="M28,-100 C43.4644,-100 56,-77.61500000000001 56,-50 C56,-22.384999999999998 43.4644,0 28,0 C12.535599999999999,0 0,-22.384999999999998 0,-50 C0,-77.61500000000001 12.535599999999999,-100 28,-100 Z" transform="matrix(0.1461,0,-0.0323,0.1470,-4.31,7.20)" fill="none" stroke="#4e8641" stroke-width="1.6" stroke-linecap="round" stroke-linejoin="round" vector-effect="non-scaling-stroke"/>
<path d="M9,-124 C9,-112 6,-100 0,-92" transform="matrix(0.1470,0,-0.0323,0.1470,6.82,7.20)" fill="none" stroke="#4e8641" stroke-width="1.6" stroke-linecap="round" stroke-linejoin="round" vector-effect="non-scaling-stroke"/>
</g>
<g transform="translate(1172.40,96.60) rotate(36.6)">
<path d="M2,-74 C4,-91 15,-100 29,-100 C44,-100 54,-90 54,-75 C54,-58 40,-47 24,-32 C12,-21 4,-11 0,0 L56,0" transform="matrix(0.1640,0,-0.0326,0.1480,-0.80,0.20)" fill="none" stroke="#4e8641" stroke-width="1.6" stroke-linecap="round" stroke-linejoin="round" vector-effect="non-scaling-stroke"/>
<path d="M2,-74 C4,-91 15,-100 29,-100 C44,-100 54,-90 54,-75 C54,-58 40,-47 24,-32 C12,-21 4,-11 0,0 L56,0" transform="matrix(0.1640,0,-0.0326,0.1480,11.00,0.20)" fill="none" stroke="#4e8641" stroke-width="1.6" stroke-linecap="round" stroke-linejoin="round" vector-effect="non-scaling-stroke"/>
<path d="M50,-100 L12,-100 L6,-56 C14,-62 22,-64 30,-64 C45,-64 55,-52 55,-32 C55,-12 43,0 27,0 C13,0 4,-7 0,-18" transform="matrix(0.1926,0,-0.0326,0.1480,27.61,0.20)" fill="none" stroke="#4e8641" stroke-width="1.6" stroke-linecap="round" stroke-linejoin="round" vector-effect="non-scaling-stroke"/>
<circle cx="45.30" cy="-11.80" r="2.0" fill="#4e8641"/>
<circle cx="24.30" cy="0.00" r="1.3" fill="#4e8641"/>
</g>
<g transform="translate(749.90,452.40) rotate(-31.0)">
<path d="M2,-74 C4,-91 15,-100 29,-100 C44,-100 54,-90 54,-75 C54,-58 40,-47 24,-32 C12,-21 4,-11 0,0 L56,0" transform="matrix(0.1314,0,-0.0533,0.1480,-0.80,0.20)" fill="none" stroke="#4e8641" stroke-width="1.6" stroke-linecap="round" stroke-linejoin="round" vector-effect="non-scaling-stroke"/>
<path d="M2,-74 C4,-91 15,-100 29,-100 C44,-100 54,-90 54,-75 C54,-58 40,-47 24,-32 C12,-21 4,-11 0,0 L56,0" transform="matrix(0.1314,0,-0.0533,0.1480,11.00,0.20)" fill="none" stroke="#4e8641" stroke-width="1.6" stroke-linecap="round" stroke-linejoin="round" vector-effect="non-scaling-stroke"/>
<path d="M50,-100 L12,-100 L6,-56 C14,-62 22,-64 30,-64 C45,-64 55,-52 55,-32 C55,-12 43,0 27,0 C13,0 4,-7 0,-18" transform="matrix(0.1586,0,-0.0533,0.1480,27.24,0.20)" fill="none" stroke="#4e8641" stroke-width="1.6" stroke-linecap="round" stroke-linejoin="round" vector-effect="non-scaling-stroke"/>
<circle cx="45.20" cy="-13.30" r="2.0" fill="#4e8641"/>
<circle cx="24.30" cy="0.00" r="1.3" fill="#4e8641"/>
</g>
<path d="M0,0 L6,-100" transform="matrix(0.2567,0,-0.0526,0.2630,86.35,97.65)" fill="none" stroke="#36362f" stroke-width="3.7" stroke-linecap="round" stroke-linejoin="round" vector-effect="non-scaling-stroke"/>
<path d="M22,-100 C34.1506,-100 44,-77.61500000000001 44,-50 C44,-22.384999999999998 34.1506,0 22,0 C9.8494,0 0,-22.384999999999998 0,-50 C0,-77.61500000000001 9.8494,-100 22,-100 Z" transform="matrix(0.2899,0,-0.0526,0.2630,96.24,97.65)" fill="none" stroke="#36362f" stroke-width="3.7" stroke-linecap="round" stroke-linejoin="round" vector-effect="non-scaling-stroke"/>
<path d="M3,-100 L0,-70" transform="matrix(0.2630,0,-0.0526,0.2630,118.67,97.65)" fill="none" stroke="#36362f" stroke-width="3.7" stroke-linecap="round" stroke-linejoin="round" vector-effect="non-scaling-stroke"/>
<path d="M0,-100 L54,0 M54,-100 L0,0" transform="matrix(0.2063,0,-0.0416,0.2080,143.35,97.65)" fill="none" stroke="#36362f" stroke-width="3.7" stroke-linecap="round" stroke-linejoin="round" vector-effect="non-scaling-stroke"/>
<path d="M0,0 L6,-100" transform="matrix(0.0900,0,-0.0526,0.2630,177.85,97.65)" fill="none" stroke="#36362f" stroke-width="3.7" stroke-linecap="round" stroke-linejoin="round" vector-effect="non-scaling-stroke"/>
<path d="M22,-100 C34.1506,-100 44,-77.61500000000001 44,-50 C44,-22.384999999999998 34.1506,0 22,0 C9.8494,0 0,-22.384999999999998 0,-50 C0,-77.61500000000001 9.8494,-100 22,-100 Z" transform="matrix(0.2652,0,-0.0526,0.2630,187.29,97.65)" fill="none" stroke="#36362f" stroke-width="3.7" stroke-linecap="round" stroke-linejoin="round" vector-effect="non-scaling-stroke"/>
<path d="M3,-100 L0,-70" transform="matrix(0.2630,0,-0.0526,0.2630,210.17,97.65)" fill="none" stroke="#36362f" stroke-width="3.7" stroke-linecap="round" stroke-linejoin="round" vector-effect="non-scaling-stroke"/>
<path d="M48,-100 L12,-100 L7,-57 C14,-63 22,-65 29,-65 C44,-65 53,-52 53,-33 C53,-12 42,0 26,0 C13,0 5,-7 1,-18" transform="matrix(0.2274,0,-0.0526,0.2630,86.38,143.65)" fill="none" stroke="#36362f" stroke-width="3.7" stroke-linecap="round" stroke-linejoin="round" vector-effect="non-scaling-stroke"/>
<path d="M58,-80 C54,-94 44,-100 32,-100 C12,-100 0,-78 0,-50 C0,-20 12,0 32,0 C44,0 54,-8 58,-22" transform="matrix(0.2587,0,-0.0526,0.2630,121.94,143.65)" fill="none" stroke="#36362f" stroke-width="3.7" stroke-linecap="round" stroke-linejoin="round" vector-effect="non-scaling-stroke"/>
<path d="M26,-100 C40.3598,-100 52,-77.61500000000001 52,-50 C52,-22.384999999999998 40.3598,0 26,0 C11.6402,0 0,-22.384999999999998 0,-50 C0,-77.61500000000001 11.6402,-100 26,-100 Z" transform="matrix(0.2206,0,-0.0416,0.2080,145.14,143.65)" fill="none" stroke="#36362f" stroke-width="3.7" stroke-linecap="round" stroke-linejoin="round" vector-effect="non-scaling-stroke"/>
<path d="M0,0 L0,-100 L32,-100 C46,-100 54,-91 54,-76 C54,-61 46,-52 32,-52 L0,-52 M30,-52 L54,0" transform="matrix(0.1639,0,-0.0416,0.2080,164.05,143.65)" fill="none" stroke="#36362f" stroke-width="3.7" stroke-linecap="round" stroke-linejoin="round" vector-effect="non-scaling-stroke"/>
<path d="M0,0 L0,-100 L54,0 L54,-100" transform="matrix(0.2248,0,-0.0416,0.2080,181.85,143.65)" fill="none" stroke="#36362f" stroke-width="3.7" stroke-linecap="round" stroke-linejoin="round" vector-effect="non-scaling-stroke"/>
<path d="M50,-100 L0,-100 L0,0 L48,0 M0,-54 L40,-54" transform="matrix(0.1928,0,-0.0416,0.2080,201.85,143.65)" fill="none" stroke="#36362f" stroke-width="3.7" stroke-linecap="round" stroke-linejoin="round" vector-effect="non-scaling-stroke"/>
<path d="M0,0 L0,-100 L32,-100 C46,-100 54,-91 54,-76 C54,-61 46,-52 32,-52 L0,-52 M30,-52 L54,0" transform="matrix(0.2118,0,-0.0416,0.2080,220.60,143.65)" fill="none" stroke="#36362f" stroke-width="3.7" stroke-linecap="round" stroke-linejoin="round" vector-effect="non-scaling-stroke"/>
<path d="M52,-80 C48,-94 38,-100 27,-100 C13,-100 3,-91 3,-76 C3,-60 15,-55 28,-50 C42,-45 54,-38 54,-22 C54,-7 42,0 27,0 C13,0 3,-7 0,-20" transform="matrix(0.2643,0,-0.0526,0.2630,252.40,143.65)" fill="none" stroke="#36362f" stroke-width="3.7" stroke-linecap="round" stroke-linejoin="round" vector-effect="non-scaling-stroke"/>
<path d="M0,0 L0,-100 M54,0 L54,-100 M0,-52 L54,-52" transform="matrix(0.2100,0,-0.0416,0.2080,274.05,143.65)" fill="none" stroke="#36362f" stroke-width="3.7" stroke-linecap="round" stroke-linejoin="round" vector-effect="non-scaling-stroke"/>
<path d="M50,-100 L0,-100 L0,0 L48,0 M0,-54 L40,-54" transform="matrix(0.2108,0,-0.0416,0.2080,293.25,143.65)" fill="none" stroke="#36362f" stroke-width="3.7" stroke-linecap="round" stroke-linejoin="round" vector-effect="non-scaling-stroke"/>
<path d="M0,0 L0,-100 L22,-100 C42,-100 54,-80 54,-50 C54,-20 42,0 22,0 Z" transform="matrix(0.2096,0,-0.0416,0.2080,311.65,143.65)" fill="none" stroke="#36362f" stroke-width="3.7" stroke-linecap="round" stroke-linejoin="round" vector-effect="non-scaling-stroke"/>
<path d="M50,-100 L0,-100 L0,0 M0,-55 L40,-55" transform="matrix(0.2664,0,-0.0528,0.2640,86.35,188.55)" fill="none" stroke="#36362f" stroke-width="3.7" stroke-linecap="round" stroke-linejoin="round" vector-effect="non-scaling-stroke"/>
<path d="M0,-100 L0,0 L48,0" transform="matrix(0.2021,0,-0.0414,0.2070,108.25,188.55)" fill="none" stroke="#36362f" stroke-width="3.7" stroke-linecap="round" stroke-linejoin="round" vector-effect="non-scaling-stroke"/>
<path d="M26,-100 C40.3598,-100 52,-77.61500000000001 52,-50 C52,-22.384999999999998 40.3598,0 26,0 C11.6402,0 0,-22.384999999999998 0,-50 C0,-77.61500000000001 11.6402,-100 26,-100 Z" transform="matrix(0.2268,0,-0.0414,0.2070,124.43,188.55)" fill="none" stroke="#36362f" stroke-width="3.7" stroke-linecap="round" stroke-linejoin="round" vector-effect="non-scaling-stroke"/>
<path d="M26,-100 C40.3598,-100 52,-77.61500000000001 52,-50 C52,-22.384999999999998 40.3598,0 26,0 C11.6402,0 0,-22.384999999999998 0,-50 C0,-77.61500000000001 11.6402,-100 26,-100 Z" transform="matrix(0.2349,0,-0.0414,0.2070,143.52,188.55)" fill="none" stroke="#36362f" stroke-width="3.7" stroke-linecap="round" stroke-linejoin="round" vector-effect="non-scaling-stroke"/>
<path d="M0,0 L0,-100 L32,-100 C46,-100 54,-91 54,-76 C54,-61 46,-52 32,-52 L0,-52 M30,-52 L54,0" transform="matrix(0.2112,0,-0.0414,0.2070,163.45,188.55)" fill="none" stroke="#36362f" stroke-width="3.7" stroke-linecap="round" stroke-linejoin="round" vector-effect="non-scaling-stroke"/>
<path d="M0,-100 L0,0 L48,0" transform="matrix(0.2604,0,-0.0528,0.2640,195.55,188.55)" fill="none" stroke="#36362f" stroke-width="3.7" stroke-linecap="round" stroke-linejoin="round" vector-effect="non-scaling-stroke"/>
<path d="M0,0 L30,-100 L60,0 M10,-33 L50,-33" transform="matrix(0.2083,0,-0.0414,0.2070,217.05,188.55)" fill="none" stroke="#36362f" stroke-width="3.7" stroke-linecap="round" stroke-linejoin="round" vector-effect="non-scaling-stroke"/>
<path d="M0,-100 L27,-52 L54,-100 M27,-52 L27,0" transform="matrix(0.1981,0,-0.0414,0.2070,238.71,188.55)" fill="none" stroke="#36362f" stroke-width="3.7" stroke-linecap="round" stroke-linejoin="round" vector-effect="non-scaling-stroke"/>
<path d="M26,-100 C40.3598,-100 52,-77.61500000000001 52,-50 C52,-22.384999999999998 40.3598,0 26,0 C11.6402,0 0,-22.384999999999998 0,-50 C0,-77.61500000000001 11.6402,-100 26,-100 Z" transform="matrix(0.2001,0,-0.0414,0.2070,257.78,188.55)" fill="none" stroke="#36362f" stroke-width="3.7" stroke-linecap="round" stroke-linejoin="round" vector-effect="non-scaling-stroke"/>
<path d="M0,-100 L0,-32 C0,-11 11,0 27,0 C43,0 54,-11 54,-32 L54,-100" transform="matrix(0.1899,0,-0.0414,0.2070,276.76,188.55)" fill="none" stroke="#36362f" stroke-width="3.7" stroke-linecap="round" stroke-linejoin="round" vector-effect="non-scaling-stroke"/>
<path d="M0,-100 L56,-100 M28,-100 L28,0" transform="matrix(0.2232,0,-0.0414,0.2070,295.11,188.55)" fill="none" stroke="#36362f" stroke-width="3.7" stroke-linecap="round" stroke-linejoin="round" vector-effect="non-scaling-stroke"/>
<path d="M0,-100 L0,0 L48,0" transform="matrix(0.1042,0,-0.0293,0.1220,97.35,220.75)" fill="none" stroke="#1d1d1b" stroke-width="2.7" stroke-linecap="round" stroke-linejoin="round" vector-effect="non-scaling-stroke"/>
<path d="M0,0 L0,-100" transform="matrix(0.0244,0,-0.0293,0.1220,108.05,220.75)" fill="none" stroke="#1d1d1b" stroke-width="2.7" stroke-linecap="round" stroke-linejoin="round" vector-effect="non-scaling-stroke"/>
<path d="M0,-100 L56,-100 M28,-100 L28,0" transform="matrix(0.1107,0,-0.0293,0.1220,112.32,220.75)" fill="none" stroke="#1d1d1b" stroke-width="2.7" stroke-linecap="round" stroke-linejoin="round" vector-effect="non-scaling-stroke"/>
<path d="M0,-100 L56,-100 M28,-100 L28,0" transform="matrix(0.1107,0,-0.0293,0.1220,123.82,220.75)" fill="none" stroke="#1d1d1b" stroke-width="2.7" stroke-linecap="round" stroke-linejoin="round" vector-effect="non-scaling-stroke"/>
<path d="M0,-100 L0,0 L48,0" transform="matrix(0.0979,0,-0.0293,0.1220,135.65,220.75)" fill="none" stroke="#1d1d1b" stroke-width="2.7" stroke-linecap="round" stroke-linejoin="round" vector-effect="non-scaling-stroke"/>
<path d="M50,-100 L0,-100 L0,0 L48,0 M0,-54 L40,-54" transform="matrix(0.0954,0,-0.0293,0.1220,145.85,220.75)" fill="none" stroke="#1d1d1b" stroke-width="2.7" stroke-linecap="round" stroke-linejoin="round" vector-effect="non-scaling-stroke"/>
<path d="M58,-80 C54,-94 44,-100 32,-100 C12,-100 0,-78 0,-50 C0,-20 12,0 32,0 C44,0 54,-8 58,-22" transform="matrix(0.1079,0,-0.0293,0.1220,162.45,220.75)" fill="none" stroke="#1d1d1b" stroke-width="2.7" stroke-linecap="round" stroke-linejoin="round" vector-effect="non-scaling-stroke"/>
<path d="M26,-100 C40.3598,-100 52,-77.61500000000001 52,-50 C52,-22.384999999999998 40.3598,0 26,0 C11.6402,0 0,-22.384999999999998 0,-50 C0,-77.61500000000001 11.6402,-100 26,-100 Z" transform="matrix(0.1369,0,-0.0293,0.1220,173.88,220.75)" fill="none" stroke="#1d1d1b" stroke-width="2.7" stroke-linecap="round" stroke-linejoin="round" vector-effect="non-scaling-stroke"/>
<path d="M0,-100 L56,-100 M28,-100 L28,0" transform="matrix(0.1179,0,-0.0293,0.1220,185.12,220.75)" fill="none" stroke="#1d1d1b" stroke-width="2.7" stroke-linecap="round" stroke-linejoin="round" vector-effect="non-scaling-stroke"/>
<path d="M0,-100 L56,-100 M28,-100 L28,0" transform="matrix(0.1196,0,-0.0293,0.1220,196.12,220.75)" fill="none" stroke="#1d1d1b" stroke-width="2.7" stroke-linecap="round" stroke-linejoin="round" vector-effect="non-scaling-stroke"/>
<path d="M0,0 L30,-100 L60,0 M10,-33 L50,-33" transform="matrix(0.1350,0,-0.0293,0.1220,206.75,220.75)" fill="none" stroke="#1d1d1b" stroke-width="2.7" stroke-linecap="round" stroke-linejoin="round" vector-effect="non-scaling-stroke"/>
<path d="M56,-80 C52,-94 42,-100 30,-100 C10,-100 0,-78 0,-50 C0,-20 10,0 30,0 C46,0 56,-12 56,-30 L56,-46 L32,-46" transform="matrix(0.0998,0,-0.0293,0.1220,218.92,220.75)" fill="none" stroke="#1d1d1b" stroke-width="2.7" stroke-linecap="round" stroke-linejoin="round" vector-effect="non-scaling-stroke"/>
<path d="M50,-100 L0,-100 L0,0 L48,0 M0,-54 L40,-54" transform="matrix(0.1094,0,-0.0293,0.1220,230.35,220.75)" fill="none" stroke="#1d1d1b" stroke-width="2.7" stroke-linecap="round" stroke-linejoin="round" vector-effect="non-scaling-stroke"/>
<path d="M58,-80 C54,-94 44,-100 32,-100 C12,-100 0,-78 0,-50 C0,-20 12,0 32,0 C44,0 54,-8 58,-22" transform="matrix(0.1006,0,-0.0293,0.1220,247.77,220.75)" fill="none" stroke="#1d1d1b" stroke-width="2.7" stroke-linecap="round" stroke-linejoin="round" vector-effect="non-scaling-stroke"/>
<path d="M26,-100 C40.3598,-100 52,-77.61500000000001 52,-50 C52,-22.384999999999998 40.3598,0 26,0 C11.6402,0 0,-22.384999999999998 0,-50 C0,-77.61500000000001 11.6402,-100 26,-100 Z" transform="matrix(0.1286,0,-0.0293,0.1220,259.39,220.75)" fill="none" stroke="#1d1d1b" stroke-width="2.7" stroke-linecap="round" stroke-linejoin="round" vector-effect="non-scaling-stroke"/>
<path d="M0,0 L0.5,0" transform="matrix(0.1220,0,-0.0293,0.1220,271.35,220.75)" fill="none" stroke="#1d1d1b" stroke-width="2.7" stroke-linecap="round" stroke-linejoin="round" vector-effect="non-scaling-stroke"/>
<path d="M0,-44 C8,-58 16,-58 24,-48 C32,-38 40,-38 48,-52" transform="matrix(0.1118,0,-0.0293,0.1220,283.26,220.75)" fill="none" stroke="#1d1d1b" stroke-width="2.7" stroke-linecap="round" stroke-linejoin="round" vector-effect="non-scaling-stroke"/>
<path d="M58,-80 C54,-94 44,-100 32,-100 C12,-100 0,-78 0,-50 C0,-20 12,0 32,0 C44,0 54,-8 58,-22" transform="matrix(0.0951,0,-0.0293,0.1220,300.09,220.75)" fill="none" stroke="#1d1d1b" stroke-width="2.7" stroke-linecap="round" stroke-linejoin="round" vector-effect="non-scaling-stroke"/>
<path d="M26,-100 C40.3598,-100 52,-77.61500000000001 52,-50 C52,-22.384999999999998 40.3598,0 26,0 C11.6402,0 0,-22.384999999999998 0,-50 C0,-77.61500000000001 11.6402,-100 26,-100 Z" transform="matrix(0.1327,0,-0.0293,0.1220,310.78,220.75)" fill="none" stroke="#1d1d1b" stroke-width="2.7" stroke-linecap="round" stroke-linejoin="round" vector-effect="non-scaling-stroke"/>
<path d="M0,0 L0,-100 L32,-100 C46,-100 54,-91 54,-76 C54,-61 46,-52 32,-52 L0,-52" transform="matrix(0.0948,0,-0.0293,0.1220,322.15,220.75)" fill="none" stroke="#1d1d1b" stroke-width="2.7" stroke-linecap="round" stroke-linejoin="round" vector-effect="non-scaling-stroke"/>
<path d="M0,-100 L27,-52 L54,-100 M27,-52 L27,0" transform="matrix(0.1148,0,-0.0293,0.1220,332.42,220.75)" fill="none" stroke="#1d1d1b" stroke-width="2.7" stroke-linecap="round" stroke-linejoin="round" vector-effect="non-scaling-stroke"/>
<path d="M0,0 L0,-100 L32,-100 C46,-100 54,-91 54,-76 C54,-61 46,-52 32,-52 L0,-52 M30,-52 L54,0" transform="matrix(0.1156,0,-0.0293,0.1220,342.75,220.75)" fill="none" stroke="#1d1d1b" stroke-width="2.7" stroke-linecap="round" stroke-linejoin="round" vector-effect="non-scaling-stroke"/>
<path d="M0,0 L0,-100" transform="matrix(0.0244,0,-0.0293,0.1220,354.65,220.75)" fill="none" stroke="#1d1d1b" stroke-width="2.7" stroke-linecap="round" stroke-linejoin="round" vector-effect="non-scaling-stroke"/>
<path d="M56,-80 C52,-94 42,-100 30,-100 C10,-100 0,-78 0,-50 C0,-20 10,0 30,0 C46,0 56,-12 56,-30 L56,-46 L32,-46" transform="matrix(0.0785,0,-0.0293,0.1220,360.50,220.75)" fill="none" stroke="#1d1d1b" stroke-width="2.7" stroke-linecap="round" stroke-linejoin="round" vector-effect="non-scaling-stroke"/>
<path d="M0,0 L0,-100 M54,0 L54,-100 M0,-52 L54,-52" transform="matrix(0.1013,0,-0.0293,0.1220,370.75,220.75)" fill="none" stroke="#1d1d1b" stroke-width="2.7" stroke-linecap="round" stroke-linejoin="round" vector-effect="non-scaling-stroke"/>
<path d="M0,-100 L56,-100 M28,-100 L28,0" transform="matrix(0.1268,0,-0.0293,0.1220,381.42,220.75)" fill="none" stroke="#1d1d1b" stroke-width="2.7" stroke-linecap="round" stroke-linejoin="round" vector-effect="non-scaling-stroke"/>
<path d="M2,-76 C6,-92 16,-100 29,-100 C44,-100 53,-90 53,-75 C53,-62 46,-53 34,-43 L0,0 L54,0" transform="matrix(0.1012,0,-0.0293,0.1220,399.65,220.75)" fill="none" stroke="#1d1d1b" stroke-width="2.7" stroke-linecap="round" stroke-linejoin="round" vector-effect="non-scaling-stroke"/>
<path d="M22,-100 C34.1506,-100 44,-77.61500000000001 44,-50 C44,-22.384999999999998 34.1506,0 22,0 C9.8494,0 0,-22.384999999999998 0,-50 C0,-77.61500000000001 9.8494,-100 22,-100 Z" transform="matrix(0.0949,0,-0.0293,0.1220,410.15,220.75)" fill="none" stroke="#1d1d1b" stroke-width="2.7" stroke-linecap="round" stroke-linejoin="round" vector-effect="non-scaling-stroke"/>
<path d="M0,0 L6,-100" transform="matrix(0.0244,0,-0.0293,0.1220,420.25,220.75)" fill="none" stroke="#1d1d1b" stroke-width="2.7" stroke-linecap="round" stroke-linejoin="round" vector-effect="non-scaling-stroke"/>
<path d="M22,-100 C34.1506,-100 44,-77.61500000000001 44,-50 C44,-22.384999999999998 34.1506,0 22,0 C9.8494,0 0,-22.384999999999998 0,-50 C0,-77.61500000000001 9.8494,-100 22,-100 Z" transform="matrix(0.1138,0,-0.0293,0.1220,425.08,220.75)" fill="none" stroke="#1d1d1b" stroke-width="2.7" stroke-linecap="round" stroke-linejoin="round" vector-effect="non-scaling-stroke"/>
<path d="M40,-100 L0,-19 L56,-19 M44,-50 L44,0" transform="matrix(0.2679,0,-0.0526,0.2630,113.05,566.15)" fill="none" stroke="#36362f" stroke-width="3.7" stroke-linecap="round" stroke-linejoin="round" vector-effect="non-scaling-stroke"/>
<path d="M0,-100 L54,0 M54,-100 L0,0" transform="matrix(0.2122,0,-0.0414,0.2070,150.55,566.15)" fill="none" stroke="#36362f" stroke-width="3.7" stroke-linecap="round" stroke-linejoin="round" vector-effect="non-scaling-stroke"/>
<path d="M40,-100 L0,-19 L56,-19 M44,-50 L44,0" transform="matrix(0.2679,0,-0.0526,0.2630,182.85,566.15)" fill="none" stroke="#36362f" stroke-width="3.7" stroke-linecap="round" stroke-linejoin="round" vector-effect="non-scaling-stroke"/>
<path d="M3,-100 L0,-70" transform="matrix(0.2630,0,-0.0526,0.2630,207.87,566.15)" fill="none" stroke="#36362f" stroke-width="3.7" stroke-linecap="round" stroke-linejoin="round" vector-effect="non-scaling-stroke"/>
<path d="M52,-80 C48,-94 38,-100 27,-100 C13,-100 3,-91 3,-76 C3,-60 15,-55 28,-50 C42,-45 54,-38 54,-22 C54,-7 42,0 27,0 C13,0 3,-7 0,-20" transform="matrix(0.2061,0,-0.0414,0.2070,216.72,566.15)" fill="none" stroke="#36362f" stroke-width="3.7" stroke-linecap="round" stroke-linejoin="round" vector-effect="non-scaling-stroke"/>
<line x1="108.90" y1="575.50" x2="229.80" y2="575.50" stroke="#222" stroke-width="2.2" stroke-linecap="butt"/>
<path d="M2,-76 C6,-92 16,-100 29,-100 C44,-100 53,-90 53,-75 C53,-62 46,-53 34,-43 L0,0 L54,0" transform="matrix(0.2367,0,-0.0442,0.2600,78.00,654.50)" fill="none" stroke="#67ad56" stroke-width="4.0" stroke-linecap="round" stroke-linejoin="round" vector-effect="non-scaling-stroke"/>
<path d="M0,-42 L36,-42" transform="matrix(0.1944,0,-0.0442,0.2600,98.14,654.50)" fill="none" stroke="#67ad56" stroke-width="4.0" stroke-linecap="round" stroke-linejoin="round" vector-effect="non-scaling-stroke"/>
<path d="M0,0 L6,-100" transform="matrix(0.0520,0,-0.0442,0.2600,114.00,654.50)" fill="none" stroke="#67ad56" stroke-width="4.0" stroke-linecap="round" stroke-linejoin="round" vector-effect="non-scaling-stroke"/>
<path d="M2,-76 C6,-92 16,-100 29,-100 C44,-100 53,-90 53,-75 C53,-62 46,-53 34,-43 L0,0 L54,0" transform="matrix(0.2367,0,-0.0442,0.2600,122.50,654.50)" fill="none" stroke="#67ad56" stroke-width="4.0" stroke-linecap="round" stroke-linejoin="round" vector-effect="non-scaling-stroke"/>
<path d="M22,-100 C34.1506,-100 44,-77.61500000000001 44,-50 C44,-22.384999999999998 34.1506,0 22,0 C9.8494,0 0,-22.384999999999998 0,-50 C0,-77.61500000000001 9.8494,-100 22,-100 Z" transform="matrix(0.2289,0,-0.0442,0.2600,143.75,654.50)" fill="none" stroke="#67ad56" stroke-width="4.0" stroke-linecap="round" stroke-linejoin="round" vector-effect="non-scaling-stroke"/>
<path d="M5,-100 L2,-66 M31,-100 L28,-66" transform="matrix(0.2600,0,-0.0442,0.2600,162.56,654.50)" fill="none" stroke="#67ad56" stroke-width="4.0" stroke-linecap="round" stroke-linejoin="round" vector-effect="non-scaling-stroke"/>
<path d="M0,0 L6,-100" transform="matrix(0.0486,0,-0.0413,0.2430,78.00,714.80)" fill="none" stroke="#67ad56" stroke-width="4.0" stroke-linecap="round" stroke-linejoin="round" vector-effect="non-scaling-stroke"/>
<path d="M0,-42 L36,-42" transform="matrix(0.1944,0,-0.0413,0.2430,87.76,714.80)" fill="none" stroke="#67ad56" stroke-width="4.0" stroke-linecap="round" stroke-linejoin="round" vector-effect="non-scaling-stroke"/>
<path d="M0,0 L6,-100" transform="matrix(0.0486,0,-0.0413,0.2430,103.50,714.80)" fill="none" stroke="#67ad56" stroke-width="4.0" stroke-linecap="round" stroke-linejoin="round" vector-effect="non-scaling-stroke"/>
<path d="M2,-76 C6,-92 16,-100 29,-100 C44,-100 53,-90 53,-75 C53,-62 46,-53 34,-43 L0,0 L54,0" transform="matrix(0.2316,0,-0.0413,0.2430,112.00,714.80)" fill="none" stroke="#67ad56" stroke-width="4.0" stroke-linecap="round" stroke-linejoin="round" vector-effect="non-scaling-stroke"/>
<path d="M22,-100 C34.1506,-100 44,-77.61500000000001 44,-50 C44,-22.384999999999998 34.1506,0 22,0 C9.8494,0 0,-22.384999999999998 0,-50 C0,-77.61500000000001 9.8494,-100 22,-100 Z" transform="matrix(0.2317,0,-0.0413,0.2430,133.34,714.80)" fill="none" stroke="#67ad56" stroke-width="4.0" stroke-linecap="round" stroke-linejoin="round" vector-effect="non-scaling-stroke"/>
<path d="M5,-100 L2,-66 M31,-100 L28,-66" transform="matrix(0.2430,0,-0.0413,0.2430,152.79,714.80)" fill="none" stroke="#67ad56" stroke-width="4.0" stroke-linecap="round" stroke-linejoin="round" vector-effect="non-scaling-stroke"/>
<path d="M0,0 L6,-100" transform="matrix(0.0510,0,-0.0434,0.2550,78.00,781.50)" fill="none" stroke="#67ad56" stroke-width="4.0" stroke-linecap="round" stroke-linejoin="round" vector-effect="non-scaling-stroke"/>
<path d="M0,-42 L36,-42" transform="matrix(0.1944,0,-0.0434,0.2550,87.68,781.50)" fill="none" stroke="#67ad56" stroke-width="4.0" stroke-linecap="round" stroke-linejoin="round" vector-effect="non-scaling-stroke"/>
<path d="M26,-56 C13,-56 5,-64 5,-78 C5,-92 14,-100 26,-100 C38,-100 47,-92 47,-78 C47,-64 39,-56 26,-56 C11,-56 0,-45 0,-28 C0,-10 11,0 26,0 C41,0 52,-10 52,-28 C52,-45 41,-56 26,-56 Z" transform="matrix(0.1915,0,-0.0434,0.2550,102.48,781.50)" fill="none" stroke="#67ad56" stroke-width="4.0" stroke-linecap="round" stroke-linejoin="round" vector-effect="non-scaling-stroke"/>
<path d="M26,-56 C13,-56 5,-64 5,-78 C5,-92 14,-100 26,-100 C38,-100 47,-92 47,-78 C47,-64 39,-56 26,-56 C11,-56 0,-45 0,-28 C0,-10 11,0 26,0 C41,0 52,-10 52,-28 C52,-45 41,-56 26,-56 Z" transform="matrix(0.1915,0,-0.0434,0.2550,121.98,781.50)" fill="none" stroke="#67ad56" stroke-width="4.0" stroke-linecap="round" stroke-linejoin="round" vector-effect="non-scaling-stroke"/>
<path d="M5,-100 L2,-66 M31,-100 L28,-66" transform="matrix(0.2550,0,-0.0434,0.2550,141.63,781.50)" fill="none" stroke="#67ad56" stroke-width="4.0" stroke-linecap="round" stroke-linejoin="round" vector-effect="non-scaling-stroke"/>
<path d="M0,0 L6,-100" transform="matrix(0.0490,0,-0.0416,0.2450,77.50,841.50)" fill="none" stroke="#67ad56" stroke-width="4.0" stroke-linecap="round" stroke-linejoin="round" vector-effect="non-scaling-stroke"/>
<path d="M0,-42 L36,-42" transform="matrix(0.1944,0,-0.0416,0.2450,87.25,841.50)" fill="none" stroke="#67ad56" stroke-width="4.0" stroke-linecap="round" stroke-linejoin="round" vector-effect="non-scaling-stroke"/>
<path d="M46,-92 C41,-98 35,-100 29,-100 C11,-100 0,-78 0,-42 C0,-14 10,0 26,0 C42,0 52,-12 52,-30 C52,-48 42,-60 27,-60 C14,-60 4,-52 0,-38" transform="matrix(0.1958,0,-0.0416,0.2450,102.16,841.50)" fill="none" stroke="#67ad56" stroke-width="4.0" stroke-linecap="round" stroke-linejoin="round" vector-effect="non-scaling-stroke"/>
<path d="M4,-100 L50,-100 L22,-60 C42,-61 53,-49 53,-30 C53,-11 41,0 26,0 C13,0 5,-6 0,-16" transform="matrix(0.2200,0,-0.0416,0.2450,123.83,841.50)" fill="none" stroke="#67ad56" stroke-width="4.0" stroke-linecap="round" stroke-linejoin="round" vector-effect="non-scaling-stroke"/>
<path d="M0,-42 L36,-42" transform="matrix(0.1944,0,-0.0416,0.2450,144.25,841.50)" fill="none" stroke="#67ad56" stroke-width="4.0" stroke-linecap="round" stroke-linejoin="round" vector-effect="non-scaling-stroke"/>
<path d="M0,0 L6,-100" transform="matrix(0.0558,0,-0.0416,0.2450,159.50,841.50)" fill="none" stroke="#67ad56" stroke-width="4.0" stroke-linecap="round" stroke-linejoin="round" vector-effect="non-scaling-stroke"/>
<path d="M0,0 L40,-100" transform="matrix(0.2459,0,-0.0416,0.2450,166.50,841.50)" fill="none" stroke="#67ad56" stroke-width="4.0" stroke-linecap="round" stroke-linejoin="round" vector-effect="non-scaling-stroke"/>
<path d="M2,-76 C6,-92 16,-100 29,-100 C44,-100 53,-90 53,-75 C53,-62 46,-53 34,-43 L0,0 L54,0" transform="matrix(0.2311,0,-0.0416,0.2450,184.50,841.50)" fill="none" stroke="#67ad56" stroke-width="4.0" stroke-linecap="round" stroke-linejoin="round" vector-effect="non-scaling-stroke"/>
<path d="M5,-100 L2,-66 M31,-100 L28,-66" transform="matrix(0.2450,0,-0.0416,0.2450,204.76,841.50)" fill="none" stroke="#67ad56" stroke-width="4.0" stroke-linecap="round" stroke-linejoin="round" vector-effect="non-scaling-stroke"/>
<path d="M40,-100 L0,-19 L56,-19 M44,-50 L44,0" transform="matrix(0.2500,0,-0.0420,0.2470,397.70,712.20)" fill="none" stroke="#67ad56" stroke-width="4.0" stroke-linecap="round" stroke-linejoin="round" vector-effect="non-scaling-stroke"/>
<path d="M48,-100 L12,-100 L7,-57 C14,-63 22,-65 29,-65 C44,-65 53,-52 53,-33 C53,-12 42,0 26,0 C13,0 5,-7 1,-18" transform="matrix(0.2076,0,-0.0420,0.2470,420.04,712.20)" fill="none" stroke="#67ad56" stroke-width="4.0" stroke-linecap="round" stroke-linejoin="round" vector-effect="non-scaling-stroke"/>
<path d="M3,-100 L0,-70" transform="matrix(0.2470,0,-0.0420,0.2470,443.06,712.20)" fill="none" stroke="#67ad56" stroke-width="4.0" stroke-linecap="round" stroke-linejoin="round" vector-effect="non-scaling-stroke"/>
<path d="M40,-100 L0,-19 L56,-19 M44,-50 L44,0" transform="matrix(0.2500,0,-0.0430,0.2530,397.68,781.90)" fill="none" stroke="#67ad56" stroke-width="4.0" stroke-linecap="round" stroke-linejoin="round" vector-effect="non-scaling-stroke"/>
<path d="M48,-100 L12,-100 L7,-57 C14,-63 22,-65 29,-65 C44,-65 53,-52 53,-33 C53,-12 42,0 26,0 C13,0 5,-7 1,-18" transform="matrix(0.2058,0,-0.0430,0.2530,420.02,781.90)" fill="none" stroke="#67ad56" stroke-width="4.0" stroke-linecap="round" stroke-linejoin="round" vector-effect="non-scaling-stroke"/>
<path d="M3,-100 L0,-70" transform="matrix(0.2530,0,-0.0430,0.2530,442.99,781.90)" fill="none" stroke="#67ad56" stroke-width="4.0" stroke-linecap="round" stroke-linejoin="round" vector-effect="non-scaling-stroke"/>
<path d="M40,-100 L0,-19 L56,-19 M44,-50 L44,0" transform="matrix(0.2500,0,-0.0408,0.2400,397.72,848.90)" fill="none" stroke="#67ad56" stroke-width="4.0" stroke-linecap="round" stroke-linejoin="round" vector-effect="non-scaling-stroke"/>
<path d="M48,-100 L12,-100 L7,-57 C14,-63 22,-65 29,-65 C44,-65 53,-52 53,-33 C53,-12 42,0 26,0 C13,0 5,-7 1,-18" transform="matrix(0.2097,0,-0.0408,0.2400,420.06,848.90)" fill="none" stroke="#67ad56" stroke-width="4.0" stroke-linecap="round" stroke-linejoin="round" vector-effect="non-scaling-stroke"/>
<path d="M3,-100 L0,-70" transform="matrix(0.2400,0,-0.0408,0.2400,443.14,848.90)" fill="none" stroke="#67ad56" stroke-width="4.0" stroke-linecap="round" stroke-linejoin="round" vector-effect="non-scaling-stroke"/>
<polygon points="226.00,635.10 362.50,635.10 362.50,657.80 226.00,657.80" fill="none" stroke="#c5303d" stroke-width="1.8" stroke-linejoin="miter"/>
<polygon points="226.00,691.90 362.50,691.90 362.50,700.40 351.50,713.80 226.00,713.80" fill="none" stroke="#c5303d" stroke-width="1.8" stroke-linejoin="miter"/>
<polygon points="226.00,756.60 372.20,756.60 350.80,777.80 226.00,777.80" fill="none" stroke="#c5303d" stroke-width="1.8" stroke-linejoin="miter"/>
<polygon points="226.00,819.20 372.20,819.20 351.50,840.40 226.00,840.40" fill="none" stroke="#c5303d" stroke-width="1.8" stroke-linejoin="miter"/>
<circle cx="573.2" cy="80.2" r="1.5" fill="#1a1a1a"/>
<line x1="86.5" y1="418.2" x2="89.5" y2="416.4" stroke="#333" stroke-width="1.3" stroke-linecap="round"/>
<line x1="6" y1="195" x2="10" y2="197.5" stroke="#999" stroke-width="1" stroke-linecap="round"/>
<ellipse cx="1571.6" cy="402.5" rx="1.6" ry="4" fill="#bbb" transform="rotate(15 1571.6 402.5)"/>
<line x1="1529" y1="740.3" x2="1531" y2="740.3" stroke="#333" stroke-width="1" />
<circle cx="1046.5" cy="171" r="0.9" fill="#888"/>
<circle cx="81.5" cy="900.5" r="0.8" fill="#777"/>
</svg>
</body></html>
